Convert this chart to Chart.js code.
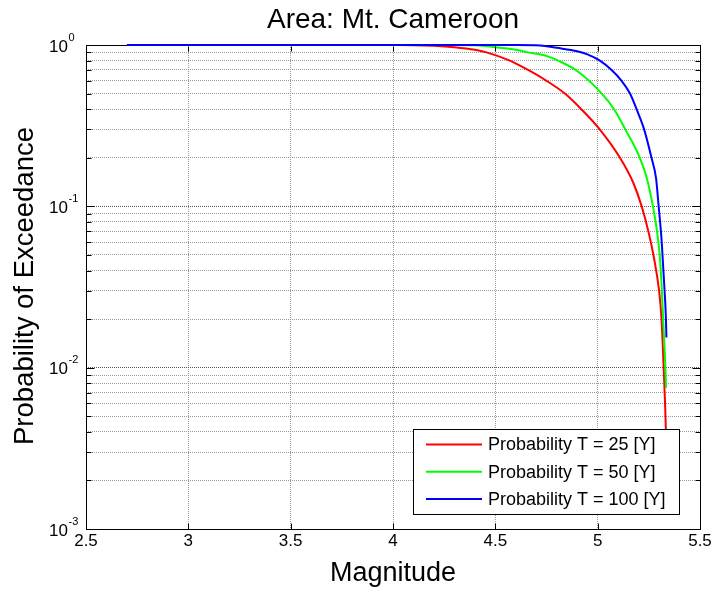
<!DOCTYPE html>
<html>
<head>
<meta charset="utf-8">
<script src="https://cdn.jsdelivr.net/npm/chart.js@4.4.0/dist/chart.umd.min.js"></script>
<style>
  html, body { margin: 0; padding: 0; background: #fff; }
</style>
</head>
<body>
<canvas id="exceedChart" width="715" height="592"></canvas>
<script>
// Probability of exceedance vs magnitude for three return periods

const magT25 = [2.7, 4.0, 4.1, 4.2, 4.3, 4.4, 4.457, 4.571, 4.66, 4.75, 4.84, 4.92, 5.01, 5.109, 5.174, 5.215, 5.25, 5.275, 5.3, 5.312, 5.325, 5.333, 5.337];
const probT25 = [1.0, 0.999, 0.998, 0.99, 0.97, 0.935, 0.9, 0.8, 0.7, 0.6, 0.5, 0.4, 0.3, 0.2, 0.14, 0.1, 0.068, 0.048, 0.03, 0.02, 0.0083, 0.0042, 0.0022];

const magT50 = [2.7, 4.3, 4.4, 4.45, 4.5, 4.6, 4.66, 4.75, 4.807, 4.9, 5.02, 5.08, 5.135, 5.206, 5.24, 5.27, 5.29, 5.303, 5.312, 5.32, 5.327, 5.331, 5.334];
const probT50 = [1.0, 0.999, 0.995, 0.985, 0.97, 0.935, 0.9, 0.855, 0.8, 0.69, 0.5, 0.4, 0.3, 0.2, 0.15, 0.1, 0.07, 0.05, 0.033, 0.02, 0.013, 0.01, 0.0075];

const magT100 = [2.7, 4.6, 4.72, 4.8, 4.9, 4.95, 5.011, 5.068, 5.117, 5.158, 5.19, 5.227, 5.263, 5.285, 5.298, 5.313, 5.327, 5.333, 5.336];
const probT100 = [1.0, 0.999, 0.993, 0.96, 0.915, 0.875, 0.8, 0.7, 0.6, 0.5, 0.4, 0.3, 0.2, 0.15, 0.1, 0.06, 0.03, 0.021, 0.0154];

const seriesLabels = ['Probability T = 25 [Y]', 'Probability T = 50 [Y]', 'Probability T = 100 [Y]'];
const seriesColors = ['#ff0000', '#00ff00', '#0000ff'];

const xTickValues = [2.5, 3, 3.5, 4, 4.5, 5, 5.5];
const yDecadeExps = [0, -1, -2, -3];
const yTickValues = [];
[-3, -2, -1].forEach(e => {
    for (let k = 1; k <= 9; k++) yTickValues.push(k * Math.pow(10, e));
});
yTickValues.push(1);

const FONT = "'Liberation Sans', Arial, Helvetica, sans-serif";

function toPoints(xs, ys) {
    return xs.map((x, i) => ({ x: x, y: ys[i] }));
}

function isDecade(v) {
    const l = Math.log10(v);
    return Math.abs(l - Math.round(l)) < 1e-9;
}

function boxEdges(area) {
    return {
        L: Math.round(area.left) + 0.5, R: Math.round(area.right) + 0.5,
        T: Math.round(area.top) + 0.5, B: Math.round(area.bottom) + 0.5
    };
}

// Box, inward ticks, tick labels, titles and legend drawn around the plot
const matlabFrame = {
    id: 'matlabFrame',
    beforeDatasetsDraw(chart) {
        // axes box sits under the curves
        const ctx = chart.ctx;
        const { L, R, T, B } = boxEdges(chart.chartArea);
        ctx.save();
        ctx.strokeStyle = '#000';
        ctx.lineWidth = 1;
        ctx.strokeRect(L, T, R - L, B - T);
        ctx.restore();
    },
    afterDatasetsDraw(chart) {
        const ctx = chart.ctx;
        // legend box in the lower right of the plot
        const bx = 413.5, by = 429.5, bw = 266, bh = 85;
        ctx.save();
        ctx.fillStyle = '#fff';
        ctx.fillRect(bx, by, bw, bh);
        ctx.strokeStyle = '#000';
        ctx.lineWidth = 1;
        ctx.strokeRect(bx, by, bw, bh);
        ctx.font = '18px ' + FONT;
        ctx.textBaseline = 'middle';
        ctx.textAlign = 'left';
        chart.data.datasets.forEach((ds, i) => {
            const yy = 444.5 + i * 27.3;
            ctx.strokeStyle = ds.borderColor;
            ctx.lineWidth = 2;
            ctx.beginPath();
            ctx.moveTo(426, yy);
            ctx.lineTo(482, yy);
            ctx.stroke();
            ctx.fillStyle = '#000';
            ctx.fillText(ds.label, 488, yy + 1);
        });
        ctx.restore();
    },
    afterDraw(chart) {
        const ctx = chart.ctx;
        const area = chart.chartArea;
        const xs = chart.scales.x, ys = chart.scales.y;
        const { L, R, T, B } = boxEdges(area);
        ctx.save();
        ctx.strokeStyle = '#000';
        ctx.lineWidth = 1;

        // inward ticks
        ctx.beginPath();
        xTickValues.forEach(v => {
            const px = Math.round(xs.getPixelForValue(v)) + 0.5;
            ctx.moveTo(px, B); ctx.lineTo(px, B - 6);
            ctx.moveTo(px, T + 1); ctx.lineTo(px, T + 6);
        });
        yTickValues.forEach(v => {
            const py = Math.round(ys.getPixelForValue(v)) + 0.5;
            const len = isDecade(v) ? 8 : 5;
            ctx.moveTo(L, py); ctx.lineTo(L + len, py);
            ctx.moveTo(R, py); ctx.lineTo(R - len, py);
        });
        ctx.stroke();

        ctx.fillStyle = '#000';
        // x tick labels
        ctx.font = '17px ' + FONT;
        ctx.textAlign = 'center';
        ctx.textBaseline = 'alphabetic';
        xTickValues.forEach(v => {
            ctx.fillText(String(v), xs.getPixelForValue(v), B + 16);
        });

        // y tick labels as powers of ten
        yDecadeExps.forEach(e => {
            const py = ys.getPixelForValue(Math.pow(10, e));
            ctx.font = '17px ' + FONT;
            ctx.textAlign = 'right';
            ctx.fillText('10', 68, py + 6.5);
            ctx.font = '11px ' + FONT;
            ctx.textAlign = 'left';
            ctx.fillText(e === 0 ? '0' : '-' + Math.abs(e), 68.5, py - 4.5);
        });

        // title and axis titles
        ctx.font = '28px ' + FONT;
        ctx.textAlign = 'center';
        ctx.fillText('Area: Mt. Cameroon', (area.left + area.right) / 2, 28);
        ctx.font = '27px ' + FONT;
        ctx.fillText('Magnitude', (area.left + area.right) / 2, 581);
        ctx.translate(33, (area.top + area.bottom) / 2 - 1);
        ctx.font = '27.5px ' + FONT;
        ctx.rotate(-Math.PI / 2);
        ctx.fillText('Probability of Exceedance', 0, 0);
        ctx.restore();
    }
};

const ctx = document.getElementById('exceedChart').getContext('2d');
new Chart(ctx, {
    type: 'line',
    data: {
        datasets: [
            // higher order is drawn first, so T = 100 ends up on top
            { label: seriesLabels[0], data: toPoints(magT25, probT25), borderColor: seriesColors[0], order: 3 },
            { label: seriesLabels[1], data: toPoints(magT50, probT50), borderColor: seriesColors[1], order: 2 },
            { label: seriesLabels[2], data: toPoints(magT100, probT100), borderColor: seriesColors[2], order: 1 }
        ]
    },
    options: {
        responsive: false,
        animation: false,
        clip: false,
        layout: { padding: { left: 86, top: 45, right: 15, bottom: 63 } },
        elements: {
            line: { borderWidth: 2, cubicInterpolationMode: 'monotone', fill: false },
            point: { radius: 0 }
        },
        plugins: {
            legend: { display: false },
            title: { display: false },
            tooltip: { enabled: false }
        },
        scales: {
            x: {
                type: 'linear',
                min: 2.5,
                max: 5.5,
                afterBuildTicks: scale => { scale.ticks = xTickValues.map(v => ({ value: v })); },
                ticks: { display: false },
                grid: { color: '#9a9a9a', lineWidth: 1, drawTicks: false },
                border: { display: false, dash: [1, 1] }
            },
            y: {
                type: 'logarithmic',
                min: 0.001,
                max: 1,
                afterBuildTicks: scale => { scale.ticks = yTickValues.map(v => ({ value: v })); },
                ticks: { display: false },
                grid: {
                    color: c => (c.tick && isDecade(c.tick.value)) ? '#555555' : '#9a9a9a',
                    lineWidth: 1,
                    drawTicks: false
                },
                border: { display: false, dash: [1, 1] }
            }
        }
    },
    plugins: [matlabFrame]
});
</script>
</body>
</html>
